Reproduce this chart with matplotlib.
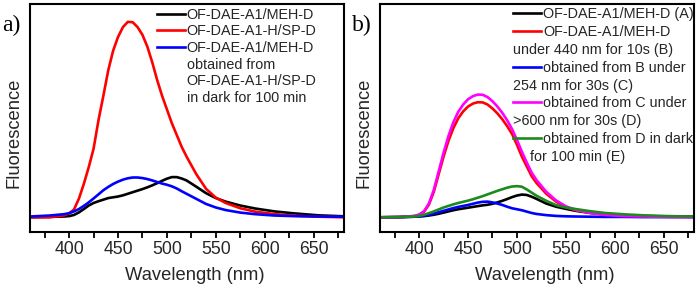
import matplotlib
matplotlib.use("Agg")
import matplotlib.pyplot as plt
from matplotlib.lines import Line2D
from matplotlib.ticker import MultipleLocator

plt.rcParams['font.family'] = ['Liberation Sans', 'DejaVu Sans']

# wavelength grid (nm) shared by all spectra
wl = [360, 380, 395, 400, 405, 410, 415, 420, 425, 430, 435, 440, 445, 450, 455,
      460, 465, 470, 475, 480, 485, 490, 495, 500, 505, 510, 515, 520, 530, 540,
      550, 560, 575, 590, 610, 630, 655, 681]

# panel a
a_mehd = [0, 0.2, 0.4, 0.6, 1.2, 2.5, 4.2, 6.0, 7.3, 8.2, 9.0, 9.8, 10.2, 10.6, 11.2,
          12.0, 12.8, 13.6, 14.4, 15.3, 16.3, 17.4, 18.6, 19.7, 20.5, 20.5, 19.8, 18.8, 15.6, 12.3,
          9.8, 8.0, 6.0, 4.5, 3.0, 2.0, 1.0, 0.5]
a_hspd = [0, 0, 1.0, 2.0, 4.0, 9.5, 17, 25.5, 35, 49.5, 62, 75, 85, 92, 97,
          99.7, 99.5, 97, 93, 87, 79, 70, 62, 55, 48, 42, 36, 31, 22, 14.5,
          10, 7.3, 4.6, 2.9, 1.6, 0.8, 0.3, 0]
a_dark = [0.4, 0.9, 1.6, 2.1, 3.0, 4.2, 5.8, 7.6, 9.6, 11.7, 13.8, 15.5, 17.0, 18.2, 19.2,
          19.9, 20.3, 20.3, 20.0, 19.5, 18.8, 18.0, 17.2, 16.6, 15.8, 14.7, 13.3, 12.0, 9.4, 6.8,
          5.0, 3.7, 2.4, 1.6, 0.9, 0.6, 0.4, 0.3]

# panel b
b_A = [0, 0.1, 0.3, 0.4, 0.6, 0.9, 1.3, 1.8, 2.4, 3.0, 3.6, 4.1, 4.5, 4.9, 5.3,
       5.7, 6.1, 6.4, 6.9, 7.6, 8.4, 9.3, 10.3, 11.1, 11.6, 11.4, 10.5, 9.4, 7.0, 5.4,
       4.3, 3.3, 2.2, 1.5, 0.9, 0.6, 0.4, 0.3]
b_B = [0, 0.1, 0.6, 1.2, 2.8, 6.5, 13, 22, 31, 39, 45.5, 50.5, 54, 56.5, 58,
       58.7, 58.6, 57.5, 55.5, 53, 50, 46.5, 42.5, 37, 31, 26, 21, 17.5, 12, 8,
       5.2, 3.6, 2.4, 1.4, 0.8, 0.5, 0.3, 0.2]
b_C = [0, 0.1, 0.3, 0.5, 0.8, 1.3, 1.9, 2.6, 3.3, 4.0, 4.7, 5.3, 5.8, 6.3, 6.9,
       7.5, 7.9, 8.0, 7.6, 7.0, 6.3, 5.4, 4.6, 4.1, 3.6, 2.9, 2.2, 1.7, 1.1, 0.7,
       0.5, 0.4, 0.3, 0.2, 0.2, 0.1, 0.1, 0.1]
b_D = [0, 0.1, 0.7, 1.4, 3.1, 7.0, 14, 23.5, 33, 41.5, 48.5, 53.8, 57.5, 60.2, 61.8,
       62.6, 62.5, 61.3, 59.2, 56.5, 53.3, 49.5, 45, 39.5, 33.5, 28, 22.8, 19, 13, 8.6,
       5.6, 3.8, 2.2, 1.2, 0.6, 0.4, 0.2, 0.1]
b_E = [0, 0.1, 0.4, 0.7, 1.3, 2.1, 3.0, 4.0, 5.0, 5.8, 6.6, 7.3, 7.9, 8.5, 9.2,
       10.0, 10.8, 11.7, 12.6, 13.5, 14.3, 15.1, 15.7, 15.9, 15.6, 14.2, 12.6, 11.0, 8.4, 6.2,
       5.0, 4.2, 3.1, 2.2, 1.5, 1.0, 0.6, 0.4]

a_labels = ["OF-DAE-A1/MEH-D", "OF-DAE-A1-H/SP-D", "OF-DAE-A1/MEH-D",
            "obtained from", "OF-DAE-A1-H/SP-D", "in dark for 100 min"]
b_labels = ["OF-DAE-A1/MEH-D (A)", "OF-DAE-A1/MEH-D", "obtained from B under",
            "obtained from C under", "obtained from D in dark"]
b_extra = ["under 440 nm for 10s (B)", "254 nm for 30s (C)",
           ">600 nm for 30s (D)", "for 100 min (E)"]

GREEN = '#1c8a1c'
TXT = '#262626'
LW = 1.9

fig = plt.figure(figsize=(7, 2.89), dpi=100)
ax1 = fig.add_axes([30 / 700, 57 / 289, 314 / 700, 228 / 289])
ax2 = fig.add_axes([380 / 700, 57 / 289, 314 / 700, 228 / 289])

l1, = ax1.plot(wl, a_mehd, color='black', lw=LW)
l2, = ax1.plot(wl, a_hspd, color='red', lw=LW)
l3, = ax1.plot(wl, a_dark, color='blue', lw=LW)

m1, = ax2.plot(wl, b_A, color='black', lw=LW)
m2, = ax2.plot(wl, b_B, color='red', lw=LW)
m3, = ax2.plot(wl, b_C, color='blue', lw=LW)
m4, = ax2.plot(wl, b_D, color='magenta', lw=LW)
m5, = ax2.plot(wl, b_E, color=GREEN, lw=LW)

for ax in (ax1, ax2):
    ax.set_xlim(360, 681)
    ax.set_ylim(-7.5, 108.8)
    ax.set_yticks([])
    ax.xaxis.set_major_locator(MultipleLocator(50))
    ax.xaxis.set_minor_locator(MultipleLocator(25))
    ax.tick_params(axis='x', which='both', direction='out', length=4, width=1.3,
                   labelsize=12.7, labelcolor=TXT, pad=2.5)
    for s in ax.spines.values():
        s.set_linewidth(1.5)
    ax.set_xlabel("Wavelength (nm)", fontsize=13.2, color=TXT, labelpad=2)
    ax.xaxis.set_label_coords(0.525, -0.155)
    ax.set_ylabel("Fluorescence", fontsize=13.2, color=TXT)
    ax.yaxis.set_label_coords(-0.024, 0.434)

blank = Line2D([], [], color='none')

leg1 = ax1.legend([l1, l2, l3, blank, blank, blank], a_labels,
                  loc='upper left', bbox_to_anchor=(0.404, 0.983), frameon=False,
                  fontsize=10.4, handlelength=1.95, handletextpad=0.12,
                  labelspacing=0.18, borderpad=0, borderaxespad=0)
for t in leg1.get_texts():
    t.set_color(TXT)

leg2 = ax2.legend([m1, m2, blank, m3, blank, m4, blank, m5, blank],
                  [b_labels[0], b_labels[1], " ", b_labels[2], " ", b_labels[3], " ",
                   b_labels[4], " "],
                  loc='upper left', bbox_to_anchor=(0.4236, 0.985), frameon=False,
                  fontsize=10.4, handlelength=1.95, handletextpad=0.12,
                  labelspacing=0.26, borderpad=0, borderaxespad=0)
for t in leg2.get_texts():
    t.set_color(TXT)
    t.set_clip_box(ax2.bbox)
    t.set_clip_on(True)

row = 17.9 / 228
for i, s in enumerate(b_extra):
    y = (232 - 14) / 228 - (2 * i + 2) * row
    x = 0.478 if i == 3 else 0.4236
    ax2.text(x, y, s, transform=ax2.transAxes, fontsize=10.4, color=TXT,
             ha='left', va='center', clip_on=True)

fig.text(0.003, 0.913, "a)", fontsize=17, family='Liberation Serif', va='center')
fig.text(0.503, 0.913, "b)", fontsize=17, family='Liberation Serif', va='center')

fig.savefig("out.png", dpi=100)
